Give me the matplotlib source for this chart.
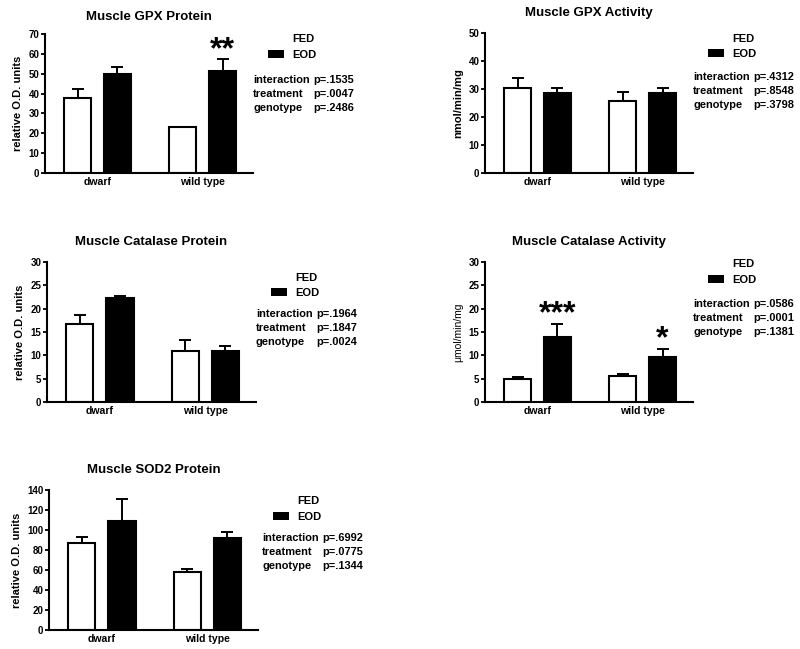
import matplotlib
matplotlib.use("Agg")
import matplotlib.pyplot as plt
import numpy as np
from matplotlib.patches import Patch

plt.rcParams['font.family'] = ['Liberation Sans', 'DejaVu Sans']
plt.rcParams['font.weight'] = 'bold'

groups = ["dwarf", "wild type"]

titles = ["Muscle GPX Protein", "Muscle GPX Activity", "Muscle Catalase Protein",
          "Muscle Catalase Activity", "Muscle SOD2 Protein"]
ylabels = ["relative O.D. units", "nmol/min/mg", "relative O.D. units",
           "\u03bcmol/min/mg", "relative O.D. units"]
ymax = [70, 50, 30, 30, 140]
ystep = [10, 10, 5, 5, 20]

# mean and top of error bar, [dwarf, wild type]
fed_mean = [[38, 23], [30.2, 25.8], [16.7, 10.9], [5.0, 5.6], [87, 58]]
fed_top = [[42.3, 23.4], [33.8, 29.0], [18.7, 13.2], [5.4, 6.1], [93, 61.5]]
eod_mean = [[49.7, 51.5], [28.7, 28.4], [22.3, 11.0], [14.0, 9.6], [109.5, 92]]
eod_top = [[53.3, 57.3], [30.3, 30.2], [22.8, 12.0], [16.7, 11.4], [131.5, 98.5]]

# significance marks over EOD bars
eod_stars = [["", "**"], ["", ""], ["", ""], ["***", "*"], ["", ""]]

stat_names = ["interaction", "treatment", "genotype"]
stat_p = [["p=.1535", "p=.0047", "p=.2486"],
          ["p=.4312", "p=.8548", "p=.3798"],
          ["p=.1964", "p=.1847", "p=.0024"],
          ["p=.0586", "p=.0001", "p=.1381"],
          ["p=.6992", "p=.0775", "p=.1344"]]

W, H = 800, 649
fig = plt.figure(figsize=(8, 6.49), dpi=100)

# axes boxes in pixels: left, top, right, bottom
boxes = [(45, 34, 253, 173), (485, 33, 693, 173), (47, 262, 256, 402),
         (485, 262, 693, 402), (49, 490, 258, 630)]
legend_y = [1.0, 0.995, 0.925, 1.02, 0.955]
stats_y = [0.708, 0.72, 0.665, 0.735, 0.695]
stats_x = [1.0, 1.0, 1.0, 1.0, 1.02]
title_pad = [10, 12, 12, 12, 12]

x = np.arange(len(groups))
bw = 0.26
off = 0.19

for i in range(5):
    l, t, r, b = boxes[i]
    ax = fig.add_axes([l / W, 1 - b / H, (r - l) / W, (b - t) / H])
    fm = np.array(fed_mean[i]); em = np.array(eod_mean[i])
    ax.bar(x - off, fm, bw, color="white", edgecolor="black", linewidth=1.5, zorder=2)
    ax.bar(x + off, em, bw, color="black", edgecolor="black", linewidth=1.5, zorder=2)
    ax.errorbar(x - off, fm, yerr=[np.zeros(2), np.array(fed_top[i]) - fm], fmt="none",
                ecolor="black", elinewidth=1.4, capsize=4.5, capthick=1.4, zorder=1)
    ax.errorbar(x + off, em, yerr=[np.zeros(2), np.array(eod_top[i]) - em], fmt="none",
                ecolor="black", elinewidth=1.4, capsize=4.5, capthick=1.4, zorder=1)
    for j in range(2):
        if eod_stars[i][j]:
            ax.annotate(eod_stars[i][j], (x[j] + off, eod_top[i][j]), xytext=(0, -4),
                        textcoords="offset points", ha="center", va="bottom",
                        fontsize=23, fontweight="bold")
    ax.set_xlim(-0.5, 1.48)
    ax.set_ylim(0, ymax[i])
    ax.set_yticks(np.arange(0, ymax[i] + 1, ystep[i]))
    ax.set_xticks(x)
    ax.set_xticklabels(groups)
    ax.tick_params(axis="y", length=3, width=1.3, labelsize=7, pad=1)
    ax.tick_params(axis="x", length=0, labelsize=7.6, pad=3)
    for lab in ax.get_yticklabels() + ax.get_xticklabels():
        lab.set_fontweight("bold")
    for s in ["top", "right"]:
        ax.spines[s].set_visible(False)
    ax.spines["left"].set_linewidth(1.5)
    ax.spines["bottom"].set_linewidth(1.5)
    ax.set_title(titles[i], fontsize=9.5, fontweight="bold", pad=title_pad[i])
    ax.set_ylabel(ylabels[i], fontsize=8 if i != 3 else 7.5,
                  fontweight="normal" if i == 3 else "bold", labelpad=4)

    handles = [Patch(facecolor="white", edgecolor="white"), Patch(facecolor="black")]
    ax.legend(handles, ["FED", "EOD"], loc="upper left", bbox_to_anchor=(1.07, legend_y[i]),
              frameon=False, handlelength=1.45, handleheight=0.75,
              handletextpad=0.75, labelspacing=0.5, borderpad=0, borderaxespad=0,
              prop={"weight": "bold", "size": 8})
    ax.text(stats_x[i], stats_y[i], "\n".join(stat_names), transform=ax.transAxes,
            fontsize=7.9, fontweight="bold", va="top", ha="left", linespacing=1.5)
    ax.text(stats_x[i] + 0.29, stats_y[i], "\n".join(stat_p[i]), transform=ax.transAxes,
            fontsize=7.9, fontweight="bold", va="top", ha="left", linespacing=1.5)

fig.savefig("out.png", dpi=100)
